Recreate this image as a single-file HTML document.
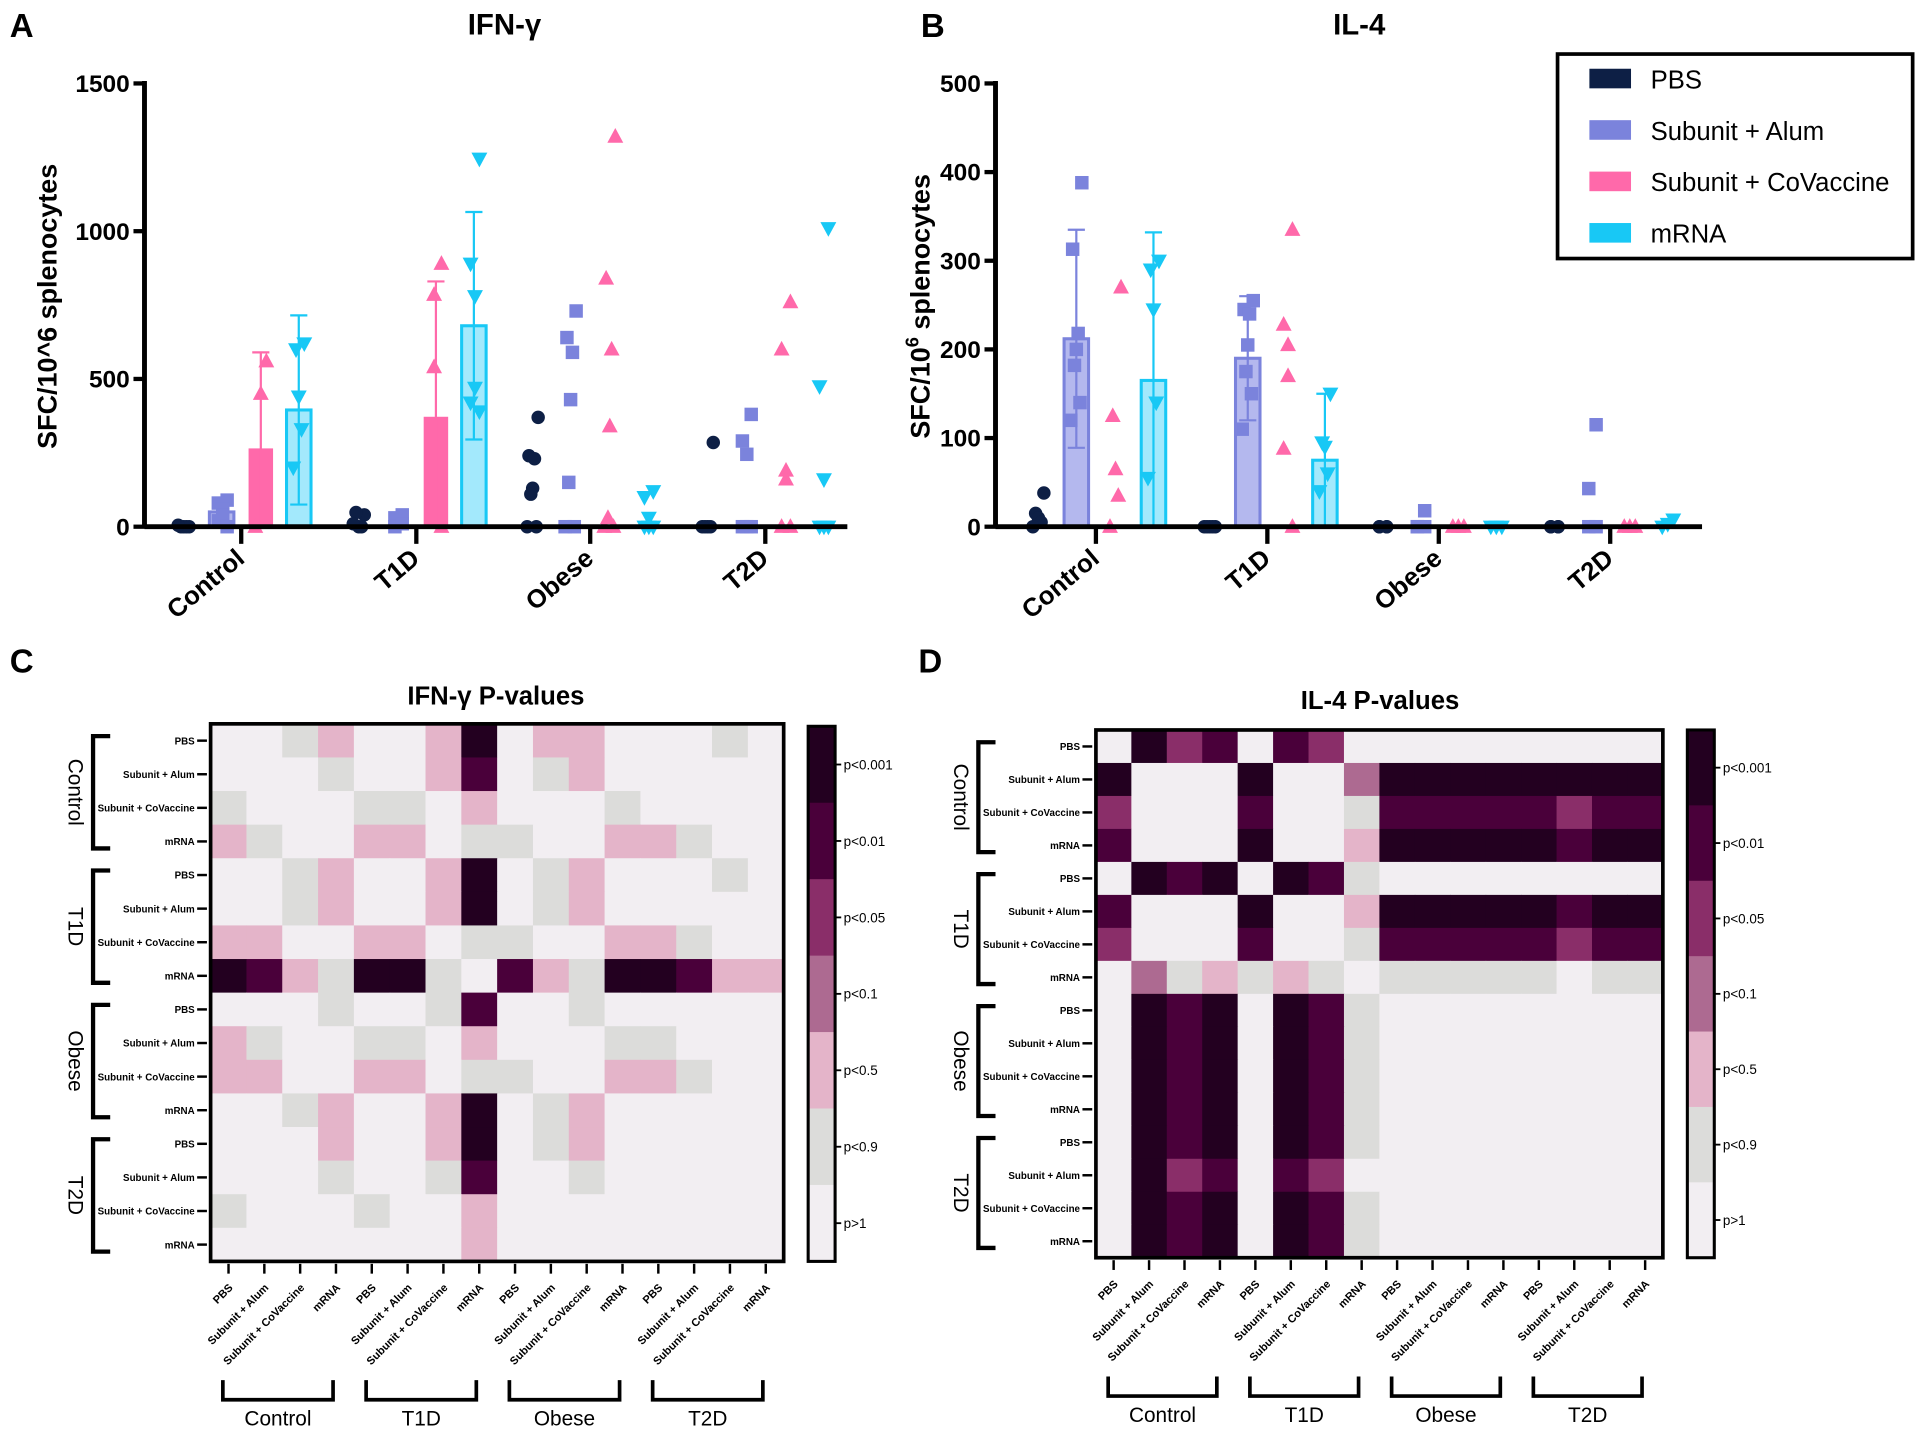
<!DOCTYPE html>
<html><head><meta charset="utf-8"><style>
html,body{margin:0;padding:0;background:#fff;}
svg{display:block;font-family:"Liberation Sans",Arial,sans-serif;}
</style></head><body>
<svg id="fig" width="1920" height="1433" viewBox="0 0 1568 1170" xmlns="http://www.w3.org/2000/svg"></svg>
<script>
// ---------- data ----------
const groups = ['Control','T1D','Obese','T2D'];
const treatments = ['PBS','Subunit + Alum','Subunit + CoVaccine','mRNA'];
const ticksA = [0,500,1000,1500];
const ticksB = [0,100,200,300,400,500];
const ifnMean = [[null,50,265,395],[null,null,372,680],[null,null,null,null],[null,null,null,null]];
const ifnSd   = [[0,0,325,320],[0,0,458,385],[0,0,0,0],[0,0,0,0]];
const ifnPts = [
 [[0,0,0,0,5],[90,80,60,40,20,0],[560,450,0],[620,600,440,330,200]],
 [[40,48,0,0,10],[40,30,0,10],[890,785,540,0],[1245,890,780,470,420,390]],
 [[370,240,230,130,110,0,0],[730,640,590,430,150,0,0],[1320,840,600,340,30,0,0],[120,100,30,0,0,0]],
 [[285,0,0,0,0],[380,290,245,0,0,0],[760,600,190,160,0,0],[1010,475,160,0,0,0]]
];
const il4Mean = [[null,212,null,165],[null,190,null,75],[null,null,null,null],[null,null,null,null]];
const il4Sd   = [[0,123,0,167],[0,70,0,75],[0,0,0,0],[0,0,0,0]];
const il4Pts = [
 [[38,15,10,5,0],[388,313,218,200,182,140,120],[270,125,65,35,0],[300,290,245,140,55]],
 [[0,0,0,0,0],[255,245,240,205,175,150,110],[335,228,205,170,88,0],[150,95,90,60,40]],
 [[0,0,0,0],[18,0,0,0],[0,0,0],[0,0,0]],
 [[0,0,0,0],[115,43,0,0],[0,0,0],[8,3,0]]
];
const pLabels = ['p<0.001','p<0.01','p<0.05','p<0.1','p<0.5','p<0.9','p>1'];
const ifnHeat = [
 [0,0,1,2,0,0,2,6,0,2,2,0,0,0,1,0],
 [0,0,0,1,0,0,2,5,0,1,2,0,0,0,0,0],
 [1,0,0,0,1,1,0,2,0,0,0,1,0,0,0,0],
 [2,1,0,0,2,2,0,1,1,0,0,2,2,1,0,0],
 [0,0,1,2,0,0,2,6,0,1,2,0,0,0,1,0],
 [0,0,1,2,0,0,2,6,0,1,2,0,0,0,0,0],
 [2,2,0,0,2,2,0,1,1,0,0,2,2,1,0,0],
 [6,5,2,1,6,6,1,0,5,2,1,6,6,5,2,2],
 [0,0,0,1,0,0,1,5,0,0,1,0,0,0,0,0],
 [2,1,0,0,1,1,0,2,0,0,0,1,1,0,0,0],
 [2,2,0,0,2,2,0,1,1,0,0,2,2,1,0,0],
 [0,0,1,2,0,0,2,6,0,1,2,0,0,0,0,0],
 [0,0,0,2,0,0,2,6,0,1,2,0,0,0,0,0],
 [0,0,0,1,0,0,1,5,0,0,1,0,0,0,0,0],
 [1,0,0,0,1,0,0,2,0,0,0,0,0,0,0,0],
 [0,0,0,0,0,0,0,2,0,0,0,0,0,0,0,0]
];
const il4Heat = [
 [0,6,4,5,0,5,4,0,0,0,0,0,0,0,0,0],
 [6,0,0,0,6,0,0,3,6,6,6,6,6,6,6,6],
 [4,0,0,0,5,0,0,1,5,5,5,5,5,4,5,5],
 [5,0,0,0,6,0,0,2,6,6,6,6,6,5,6,6],
 [0,6,5,6,0,6,5,1,0,0,0,0,0,0,0,0],
 [5,0,0,0,6,0,0,2,6,6,6,6,6,5,6,6],
 [4,0,0,0,5,0,0,1,5,5,5,5,5,4,5,5],
 [0,3,1,2,1,2,1,0,1,1,1,1,1,0,1,1],
 [0,6,5,6,0,6,5,1,0,0,0,0,0,0,0,0],
 [0,6,5,6,0,6,5,1,0,0,0,0,0,0,0,0],
 [0,6,5,6,0,6,5,1,0,0,0,0,0,0,0,0],
 [0,6,5,6,0,6,5,1,0,0,0,0,0,0,0,0],
 [0,6,5,6,0,6,5,1,0,0,0,0,0,0,0,0],
 [0,6,4,5,0,5,4,0,0,0,0,0,0,0,0,0],
 [0,6,5,6,0,6,5,1,0,0,0,0,0,0,0,0],
 [0,6,5,6,0,6,5,1,0,0,0,0,0,0,0,0]
];

// ---------- helpers ----------
const NS='http://www.w3.org/2000/svg';
const svg=document.getElementById('fig');
function mk(tag,attrs,parent){const e=document.createElementNS(NS,tag);for(const k in attrs)e.setAttribute(k,attrs[k]);(parent||svg).appendChild(e);return e;}
function txt(s,attrs,parent){const e=mk('text',attrs,parent);e.textContent=s;return e;}
const dark='#0d1f45', alum='#7b83dc', cov='#ff69aa', mrna='#18c8f5';
const colors=[dark,alum,cov,mrna];
const barFill=[dark,'#b4b8ee',cov,'#a3e9fc'];
const heatColors=['#f2eef2','#dcdcda','#e4b4c9','#ad6a91','#8a2e69','#4a003a','#230020'];
const offs=[-47,-16,16,47];

function marker(t,x,y,g){
  let e;
  if(t===0){e=mk('circle',{cx:x,cy:y,r:5.5,fill:dark},g);}
  else if(t===1){e=mk('rect',{x:x-5.5,y:y-5.5,width:11,height:11,fill:alum},g);}
  else if(t===2){e=mk('polygon',{points:`${x},${y-7} ${x-6.5},${y+5} ${x+6.5},${y+5}`,fill:cov},g);}
  else {e=mk('polygon',{points:`${x-6.5},${y-5} ${x+6.5},${y-5} ${x},${y+7}`,fill:mrna},g);}
  return e;
}

function barPanel(opt){
  const {x0,x1,y0,y1,max,ticks,means,sds,pts,centers,name,title,titleX,letter,letterX}=opt;
  const g=mk('g',{});
  
  
  const yv=v=>y0-(v/max)*(y0-y1);
  const lt=txt(letter,{x:letterX,y:30,'font-size':27,'font-weight':'bold'},g);
  
  
  const tt=txt(title,{x:titleX,y:28,'font-size':24,'font-weight':'bold','text-anchor':'middle'},g);
  
  
  for(let gi=0;gi<centers.length;gi++){
    for(let t=0;t<4;t++){
      const cx=centers[gi]+offs[t];
      const m=means[gi][t];
      if(m!==null){
        const b=mk('rect',{x:cx-10,y:yv(m),width:20,height:y0-yv(m),fill:barFill[t],stroke:colors[t],'stroke-width':t===2?0:2.5},g);
        
        
        const sd=sds[gi][t];
        if(sd>0){
          const eb=mk('path',{d:`M${cx},${yv(Math.max(0,m-sd))}V${yv(m+sd)}M${cx-7},${yv(m+sd)}H${cx+7}M${cx-7},${yv(Math.max(0,m-sd))}H${cx+7}`,stroke:colors[t],'stroke-width':1.8,fill:'none'},g);
          
          
        }
      }
      const p=pts[gi][t];
      const n=p.length;
      for(let k=0;k<n;k++){
        const jx=cx+(n>1?(k/(n-1)-0.5)*9:0)*(k%2?1:-1);
        const mm=marker(t,jx,yv(p[k]),g);
        
        
      }
    }
  }
  const ya=mk('path',{d:`M${x0},${y1-2}V${y0}`,stroke:'#000','stroke-width':4},g);
  
  
  const xa=mk('path',{d:`M${x0},${y0}H${x1}`,stroke:'#000','stroke-width':4},g);
  
  
  ticks.forEach(v=>{
    mk('path',{d:`M${x0-9},${yv(v)}H${x0}`,stroke:'#000','stroke-width':3.5},g);
    const l=txt(String(v),{x:x0-12,y:yv(v)+7,'font-size':20,'font-weight':'bold','text-anchor':'end'},g);
    
    
  });
  centers.forEach((c,i)=>{
    mk('path',{d:`M${c},${y0}V${y0+14}`,stroke:'#000','stroke-width':3.5},g);
    const l=txt(groups[i],{x:c+4,y:y0+28,'font-size':21,'font-weight':'bold','text-anchor':'end',transform:`rotate(-40 ${c+4} ${y0+28})`},g);
    
    
  });
  return {g,yv};
}

const pa=barPanel({x0:118,x1:692,y0:430,y1:68,max:1500,ticks:ticksA,means:ifnMean,sds:ifnSd,pts:ifnPts,
  centers:[197,340,482,625],name:'ifn-gamma-bar-chart',title:'IFN-γ',titleX:412,letter:'A',letterX:8});
const yta=txt('SFC/10^6 splenocytes',{x:0,y:0,'font-size':22,'font-weight':'bold','text-anchor':'middle',transform:'translate(46 250) rotate(-90)'},pa.g);



const pb=barPanel({x0:813,x1:1390,y0:430,y1:68,max:500,ticks:ticksB,means:il4Mean,sds:il4Sd,pts:il4Pts,
  centers:[895,1035,1175,1315],name:'il4-bar-chart',title:'IL-4',titleX:1110,letter:'B',letterX:752});
const ytb=txt('',{x:0,y:0,'font-size':22,'font-weight':'bold','text-anchor':'middle',transform:'translate(759 250) rotate(-90)'},pb.g);


ytb.appendChild(document.createTextNode('SFC/10'));
const sup=mk('tspan',{dy:-9,'font-size':15},ytb);sup.textContent='6';
const rest=mk('tspan',{dy:9},ytb);rest.textContent=' splenocytes';

const lg=mk('g',{});


mk('rect',{x:1272,y:44,width:290,height:167,fill:'#fff',stroke:'#000','stroke-width':3},lg);
treatments.forEach((t,i)=>{
  const y=64+i*42;
  const e=mk('g',{},lg);
  
  
  mk('rect',{x:1298,y:y-8,width:34,height:16,fill:colors[i]},e);
  txt(t,{x:1348,y:y+8,'font-size':21},e);
});

function heatmap(opt){
  const {fx,fy,fw,fh,data,name,title,titleX,titleY,cbx,cby,cbh,letter,letterX,labelX,bracketX,groupLabelX,bottomY}=opt;
  const g=mk('g',{});
  
  
  const cw=fw/16, ch=fh/16;
  const lt=txt(letter,{x:letterX,y:549,'font-size':27,'font-weight':'bold'},g);
  
  
  const tt=txt(title,{x:titleX,y:titleY,'font-size':21,'font-weight':'bold','text-anchor':'middle'},g);
  
  
  for(let r=0;r<16;r++)for(let c=0;c<16;c++){
    const cell=mk('rect',{x:fx+c*cw,y:fy+r*ch,width:cw+0.4,height:ch+0.4,fill:heatColors[data[r][c]]},g);
    
    
  }
  mk('rect',{x:fx,y:fy,width:fw,height:fh,fill:'none',stroke:'#000','stroke-width':3},g);
  for(let i=0;i<16;i++){
    const yc=fy+(i+0.5)*ch, xc=fx+(i+0.5)*cw;
    mk('path',{d:`M${fx-11},${yc}H${fx-3}`,stroke:'#000','stroke-width':2},g);
    const rl=txt(treatments[i%4],{x:labelX,y:yc+3,'font-size':8,'font-weight':'bold','text-anchor':'end'},g);
    
    
    mk('path',{d:`M${xc},${fy+fh+2}V${fy+fh+10}`,stroke:'#000','stroke-width':2},g);
    const cl=txt(treatments[i%4],{x:xc+4,y:fy+fh+22,'font-size':9,'font-weight':'bold','text-anchor':'end',transform:`rotate(-45 ${xc+4} ${fy+fh+22})`},g);
    
    
  }
  for(let k=0;k<4;k++){
    const top=fy+k*4*ch+10, bot=fy+(k+1)*4*ch-8;
    const br=mk('path',{d:`M${bracketX+14},${top}H${bracketX}V${bot}H${bracketX+14}`,stroke:'#000','stroke-width':3.5,fill:'none'},g);
    
    
    const gl=txt(groups[k],{x:0,y:0,'font-size':17,'text-anchor':'middle',transform:`translate(${groupLabelX} ${(top+bot)/2}) rotate(90)`},g);
    
    
    const l=fx+k*4*cw+10, rr=fx+(k+1)*4*cw-17;
    const bb=mk('path',{d:`M${l},${bottomY-16}V${bottomY}H${rr}V${bottomY-16}`,stroke:'#000','stroke-width':3,fill:'none'},g);
    
    
    const bl=txt(groups[k],{x:(l+rr)/2,y:bottomY+21,'font-size':17,'text-anchor':'middle'},g);
    
    
  }
  const cb=mk('g',{},g);
  
  
  const bh=cbh/7;
  for(let i=0;i<7;i++){
    mk('rect',{x:cbx,y:cby+i*bh,width:22,height:bh+0.4,fill:heatColors[6-i]},cb);
    const yc=cby+(i+0.5)*bh;
    mk('path',{d:`M${cbx+22},${yc}H${cbx+27}`,stroke:'#000','stroke-width':1.5},cb);
    txt(pLabels[i],{x:cbx+29,y:yc+4,'font-size':11},cb);
  }
  mk('rect',{x:cbx,y:cby,width:22,height:cbh,fill:'none',stroke:'#000','stroke-width':2.5},cb);
}
heatmap({fx:172,fy:591,fw:468,fh:439,data:ifnHeat,name:'ifn-gamma-p-value-heatmap',title:'IFN-γ P-values',titleX:405,titleY:575,
  cbx:660,cby:593,cbh:437,letter:'C',letterX:8,labelX:159,bracketX:76,groupLabelX:56,bottomY:1143});
heatmap({fx:895,fy:596,fw:463,fh:431,data:il4Heat,name:'il4-p-value-heatmap',title:'IL-4 P-values',titleX:1127,titleY:579,
  cbx:1378,cby:596,cbh:431,letter:'D',letterX:750,labelX:882,bracketX:799,groupLabelX:779,bottomY:1140});
</script>
</body></html>
